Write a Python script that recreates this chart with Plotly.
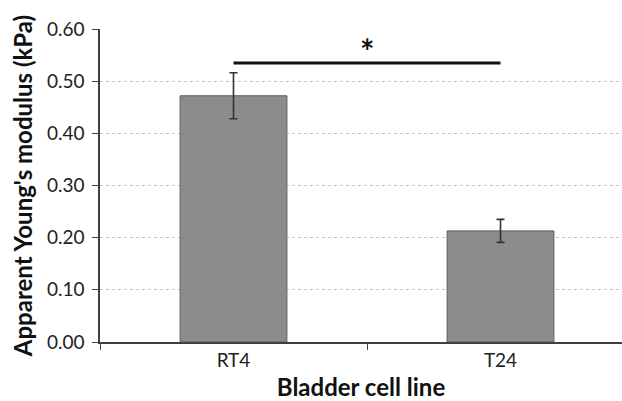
import plotly.graph_objects as go

categories = ["RT4", "T24"]
values = [0.472, 0.213]
errors = [0.044, 0.022]
y_ticks = [0.0, 0.1, 0.2, 0.3, 0.4, 0.5, 0.6]
sig_y = 0.535
sig_label = "*"
sig_label_y = 0.558

FONT = "Lato"

fig = go.Figure()
fig.add_trace(go.Bar(
    x=categories, y=values, width=0.4,
    marker=dict(color="#8c8c8c", line=dict(color="#5e5e5e", width=1)),
    error_y=dict(type="data", array=errors, visible=True, color="#333333",
                 thickness=1.6, width=4),
))

fig.add_shape(type="line", xref="x", yref="y",
              x0=categories[0], x1=categories[1], y0=sig_y, y1=sig_y,
              line=dict(color="#111111", width=3))
fig.add_annotation(x=0.5, y=sig_label_y, xref="x", yref="y", text="<b>" + sig_label + "</b>",
                   showarrow=False, font=dict(family=FONT, size=34, color="#111111"),
                   yanchor="middle")

fig.update_layout(
    width=622, height=401,
    margin=dict(l=100, r=0, t=29, b=59),
    plot_bgcolor="white", paper_bgcolor="white",
    showlegend=False,
    font=dict(family=FONT, color="#262626"),
)
fig.update_xaxes(
    type="category", range=[-0.5, 1.455],
    tickson="boundaries", ticks="outside", ticklen=6, tickwidth=1.2, tickcolor="#404040",
    showline=True, linecolor="#404040", linewidth=1.5,
    tickfont=dict(family=FONT, size=19, color="#222222"),
    title=dict(text="<b>Bladder cell line</b>", font=dict(family=FONT, size=24, color="#111111"),
               standoff=15),
    showgrid=False,
)
fig.update_yaxes(
    range=[0, 0.6], tickvals=y_ticks, tickformat=".2f",
    ticks="outside", ticklen=6, tickwidth=1.2, tickcolor="#404040",
    ticklabelstandoff=4,
    showline=True, linecolor="#404040", linewidth=1.5,
    showgrid=True, gridcolor="#c4c4c4", gridwidth=1, griddash="dot",
    zeroline=False,
    tickfont=dict(family=FONT, size=19, color="#222222"),
    title=dict(text="<b>Apparent Young's modulus (kPa)</b>",
               font=dict(family=FONT, size=24, color="#111111"), standoff=8),
)

fig.write_html("out.html")
